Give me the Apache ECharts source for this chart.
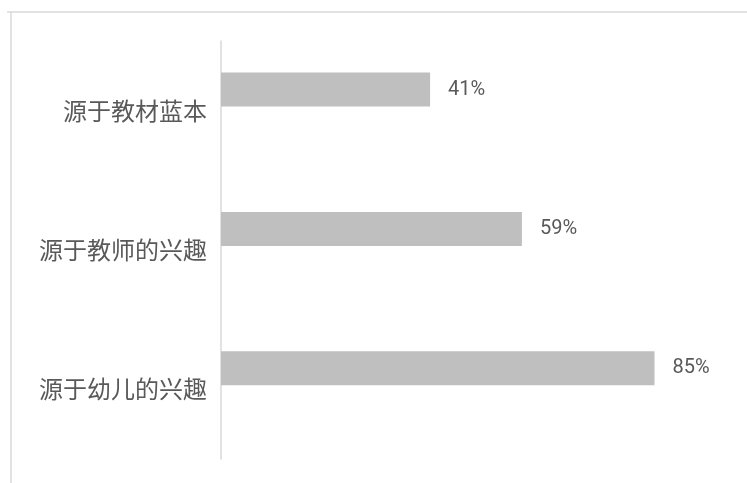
<!DOCTYPE html>
<html>
<head>
<meta charset="utf-8">
<script src="https://cdn.jsdelivr.net/npm/echarts@6/dist/echarts.min.js"></script>
<style>html,body{margin:0;padding:0;background:#fff}#c{width:747px;height:483px}</style>
</head>
<body>
<div id="c"></div>
<script>
const categories = ['源于教材蓝本', '源于教师的兴趣', '源于幼儿的兴趣'];
const values = [41, 59, 85];

const chart = echarts.init(document.getElementById('c'));
chart.setOption({
  animation: false,
  backgroundColor: '#fff',
  graphic: [
    { type: 'line', shape: { x1: 7, y1: 12, x2: 747, y2: 12 }, style: { stroke: '#d9d9d9', lineWidth: 1.5 } },
    { type: 'line', shape: { x1: 11, y1: 12, x2: 11, y2: 483 }, style: { stroke: '#d9d9d9', lineWidth: 1.5 } }
  ],
  grid: { left: 221, right: 16, top: 41, bottom: 24, containLabel: false },
  xAxis: { type: 'value', min: 0, max: 100, show: false },
  yAxis: {
    type: 'category',
    data: categories,
    inverse: true,
    axisLine: { lineStyle: { color: '#d9d9d9', width: 1.5 } },
    axisTick: { show: false },
    axisLabel: {
      margin: 14,
      fontSize: 24,
      color: '#595959',
      padding: [0, 0, 5, 0],
      fontFamily: 'Noto Sans CJK SC'
    }
  },
  series: [{
    type: 'bar',
    data: values,
    barWidth: 34,
    barCategoryGap: '0%',
    itemStyle: { color: '#bfbfbf' },
    label: {
      show: true,
      position: 'right',
      distance: 18,
      formatter: '{c}%',
      fontSize: 20,
      color: '#595959',
      fontFamily: 'Roboto, sans-serif'
    }
  }, {
    type: 'bar',
    data: [null, null, null],
    barWidth: 34,
    barGap: '24%',
    silent: true
  }]
});
</script>
</body>
</html>
